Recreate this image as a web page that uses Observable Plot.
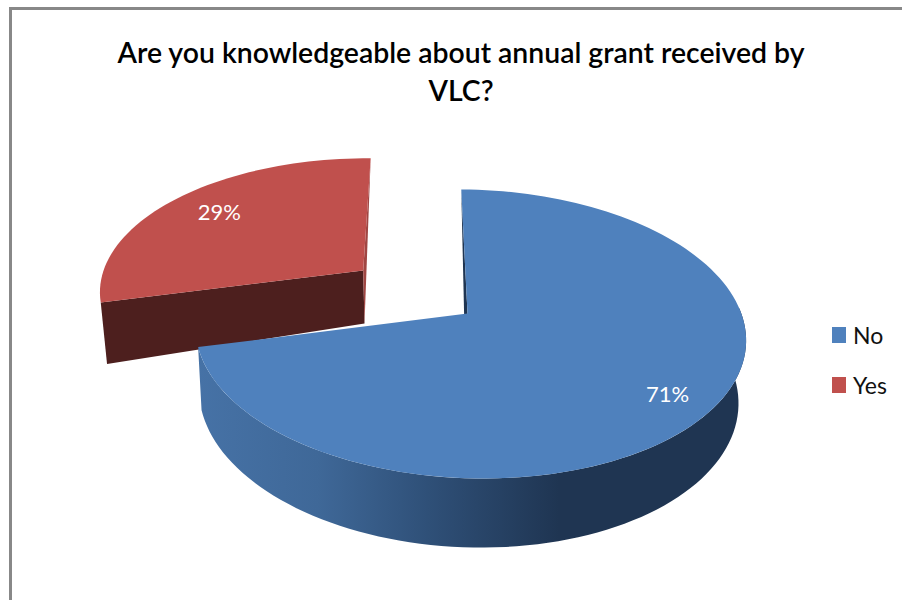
<!DOCTYPE html>
<html>
<head>
<meta charset="utf-8">
<script src="https://cdn.jsdelivr.net/npm/d3@7"></script>
<script src="https://cdn.jsdelivr.net/npm/@observablehq/plot@0.6"></script>
<style>
html,body{margin:0;padding:0;background:#fff;}
#chart{position:relative;width:902px;height:600px;overflow:hidden;background:#fff;font-family:Lato,sans-serif;}
#frame{position:absolute;left:9px;top:7px;right:-10px;bottom:-10px;border-left:3px solid #888;border-top:3px solid #888;}
#title{position:relative;height:110px;box-sizing:border-box;padding-top:33px;text-align:center;padding-left:20px;
  font-size:28.4px;line-height:38px;font-weight:600;color:#000;}
#plot svg{display:block;}
#legend{position:absolute;left:832px;top:310px;font-size:23px;color:#111;}
.item{display:flex;align-items:center;height:50px;}
.sw{display:inline-block;width:14px;height:16px;margin-right:7px;}
</style>
</head>
<body>
<div id="chart">
  <div id="frame"></div>
  <div id="title"></div>
  <div id="plot"></div>
  <div id="legend"></div>
</div>
<script>
// ---- chart values
const titleLines = ["Are you knowledgeable about annual grant received by", "VLC?"];
const categories = ["No", "Yes"];
const shares = [71, 29];
const sliceColors = ["#4f81bd", "#c0504d"];
const labelColor = "#ffffff";

// ---- look of the side walls
const redCutColor = "#4d1f1e";
const redSliverColor = "#a04643";
const blueSliverColor = "#1f3552";
const wallStopOffsets = ["0%", "22%", "42%", "66%", "100%"];
const wallStopColors = ["#4672a6", "#3f6898", "#2f5078", "#1f3552", "#1f3552"];

// ---- projection of the tilted pie (perspective) in picture pixels
const startAngle = -1.5;
const blueTop = {x0: 467, y0: 313, b: 272.5, a: 141.5, c: 0, d: 6.3, k: 0.141, m: -0.012};
const blueBottom = {...blueTop, x0: 465, y0: 374.5, b: 267, a: 148, d: 6.6};
const redTop = {x0: 362.7, y0: 270, b: 258, a: 128, c: 15.3, d: 4.5, k: 0.141, m: 0};
const redBottom = {...redTop, x0: 364, y0: 323, b: 253, a: 162, d: 5.7};

function project(g, angleDeg, r = 1) {
  const t = angleDeg * Math.PI / 180;
  const u = r * Math.sin(t), v = r * Math.cos(t);
  const w = 1 + g.k * v + g.m * u;
  return {x: g.x0 + (g.b * u + g.c * v) / w, y: g.y0 + (-g.a * v + g.d * u) / w};
}
function arc(g, a0, a1) {
  const n = Math.max(2, Math.ceil(Math.abs(a1 - a0) / 2));
  return d3.range(n + 1).map(i => project(g, a0 + (a1 - a0) * i / n));
}

// slice angles come from the shares
const total = d3.sum(shares);
const blueEnd = startAngle + 360 * shares[0] / total;
const redEnd = startAngle + 360;

const tag = (pts, category) => pts.map(p => ({...p, category}));

const blueFace = tag([project(blueTop, 0, 0), ...arc(blueTop, startAngle, blueEnd)], categories[0]);
const redFace = tag([project(redTop, 0, 0), ...arc(redTop, blueEnd, redEnd)], categories[1]);
const blueWall = [...arc(blueTop, 85, blueEnd), ...arc(blueBottom, blueEnd, 85)];
const blueSliver = [project(blueTop, startAngle), project(blueBottom, 0, 0), project(blueTop, 0, 0)];
const redCut = [project(redTop, blueEnd), project(redTop, 0, 0), project(redBottom, 0, 0), project(redBottom, blueEnd)];
const redSliver = [project(redTop, redEnd), project(redTop, 0, 0), project(redBottom, 0, 0)];

const labels = [
  {...project(blueTop, (startAngle + blueEnd) / 2, 0.84), text: shares[0] + "%"},
  {...project(redTop, (blueEnd + redEnd) / 2, 0.77), text: shares[1] + "%"}
];

const polygon = (pts, fill) => Plot.line(pts, {x: "x", y: "y", fill, stroke: "none", curve: "linear"});

const defs = () => {
  const ns = "http://www.w3.org/2000/svg";
  const d = document.createElementNS(ns, "defs");
  const g = document.createElementNS(ns, "linearGradient");
  g.setAttribute("id", "blueWallGradient");
  g.setAttribute("gradientUnits", "userSpaceOnUse");
  g.setAttribute("x1", 197); g.setAttribute("x2", 745);
  g.setAttribute("y1", 0); g.setAttribute("y2", 0);
  wallStopOffsets.forEach((o, i) => {
    const s = document.createElementNS(ns, "stop");
    s.setAttribute("offset", o);
    s.setAttribute("stop-color", wallStopColors[i]);
    g.appendChild(s);
  });
  d.appendChild(g);
  return d;
};

const plot = Plot.plot({
  width: 902,
  height: 490,
  margin: 0,
  x: {domain: [0, 902], range: [0, 902], axis: null},
  y: {domain: [110, 600], range: [0, 490], axis: null},
  color: {type: "ordinal", domain: categories, range: sliceColors},
  style: {background: "transparent"},
  marks: [
    defs,
    polygon(redCut, redCutColor),
    polygon(redSliver, redSliverColor),
    Plot.line(redFace, {x: "x", y: "y", fill: "category", stroke: "none", curve: "linear"}),
    polygon(blueSliver, blueSliverColor),
    polygon(blueWall, "url(#blueWallGradient)"),
    Plot.line(blueFace, {x: "x", y: "y", fill: "category", stroke: "none", curve: "linear"}),
    Plot.text(labels, {x: "x", y: "y", text: "text", fill: labelColor, fontSize: 22, fontFamily: "Lato, sans-serif", textAnchor: "middle"})
  ]
});
document.getElementById("plot").appendChild(plot);

document.getElementById("title").innerHTML = titleLines.join("<br>");
document.getElementById("legend").innerHTML = categories.map((c, i) =>
  `<div class="item"><span class="sw" style="background:${sliceColors[i]}"></span><span>${c}</span></div>`).join("");
</script>
</body>
</html>
